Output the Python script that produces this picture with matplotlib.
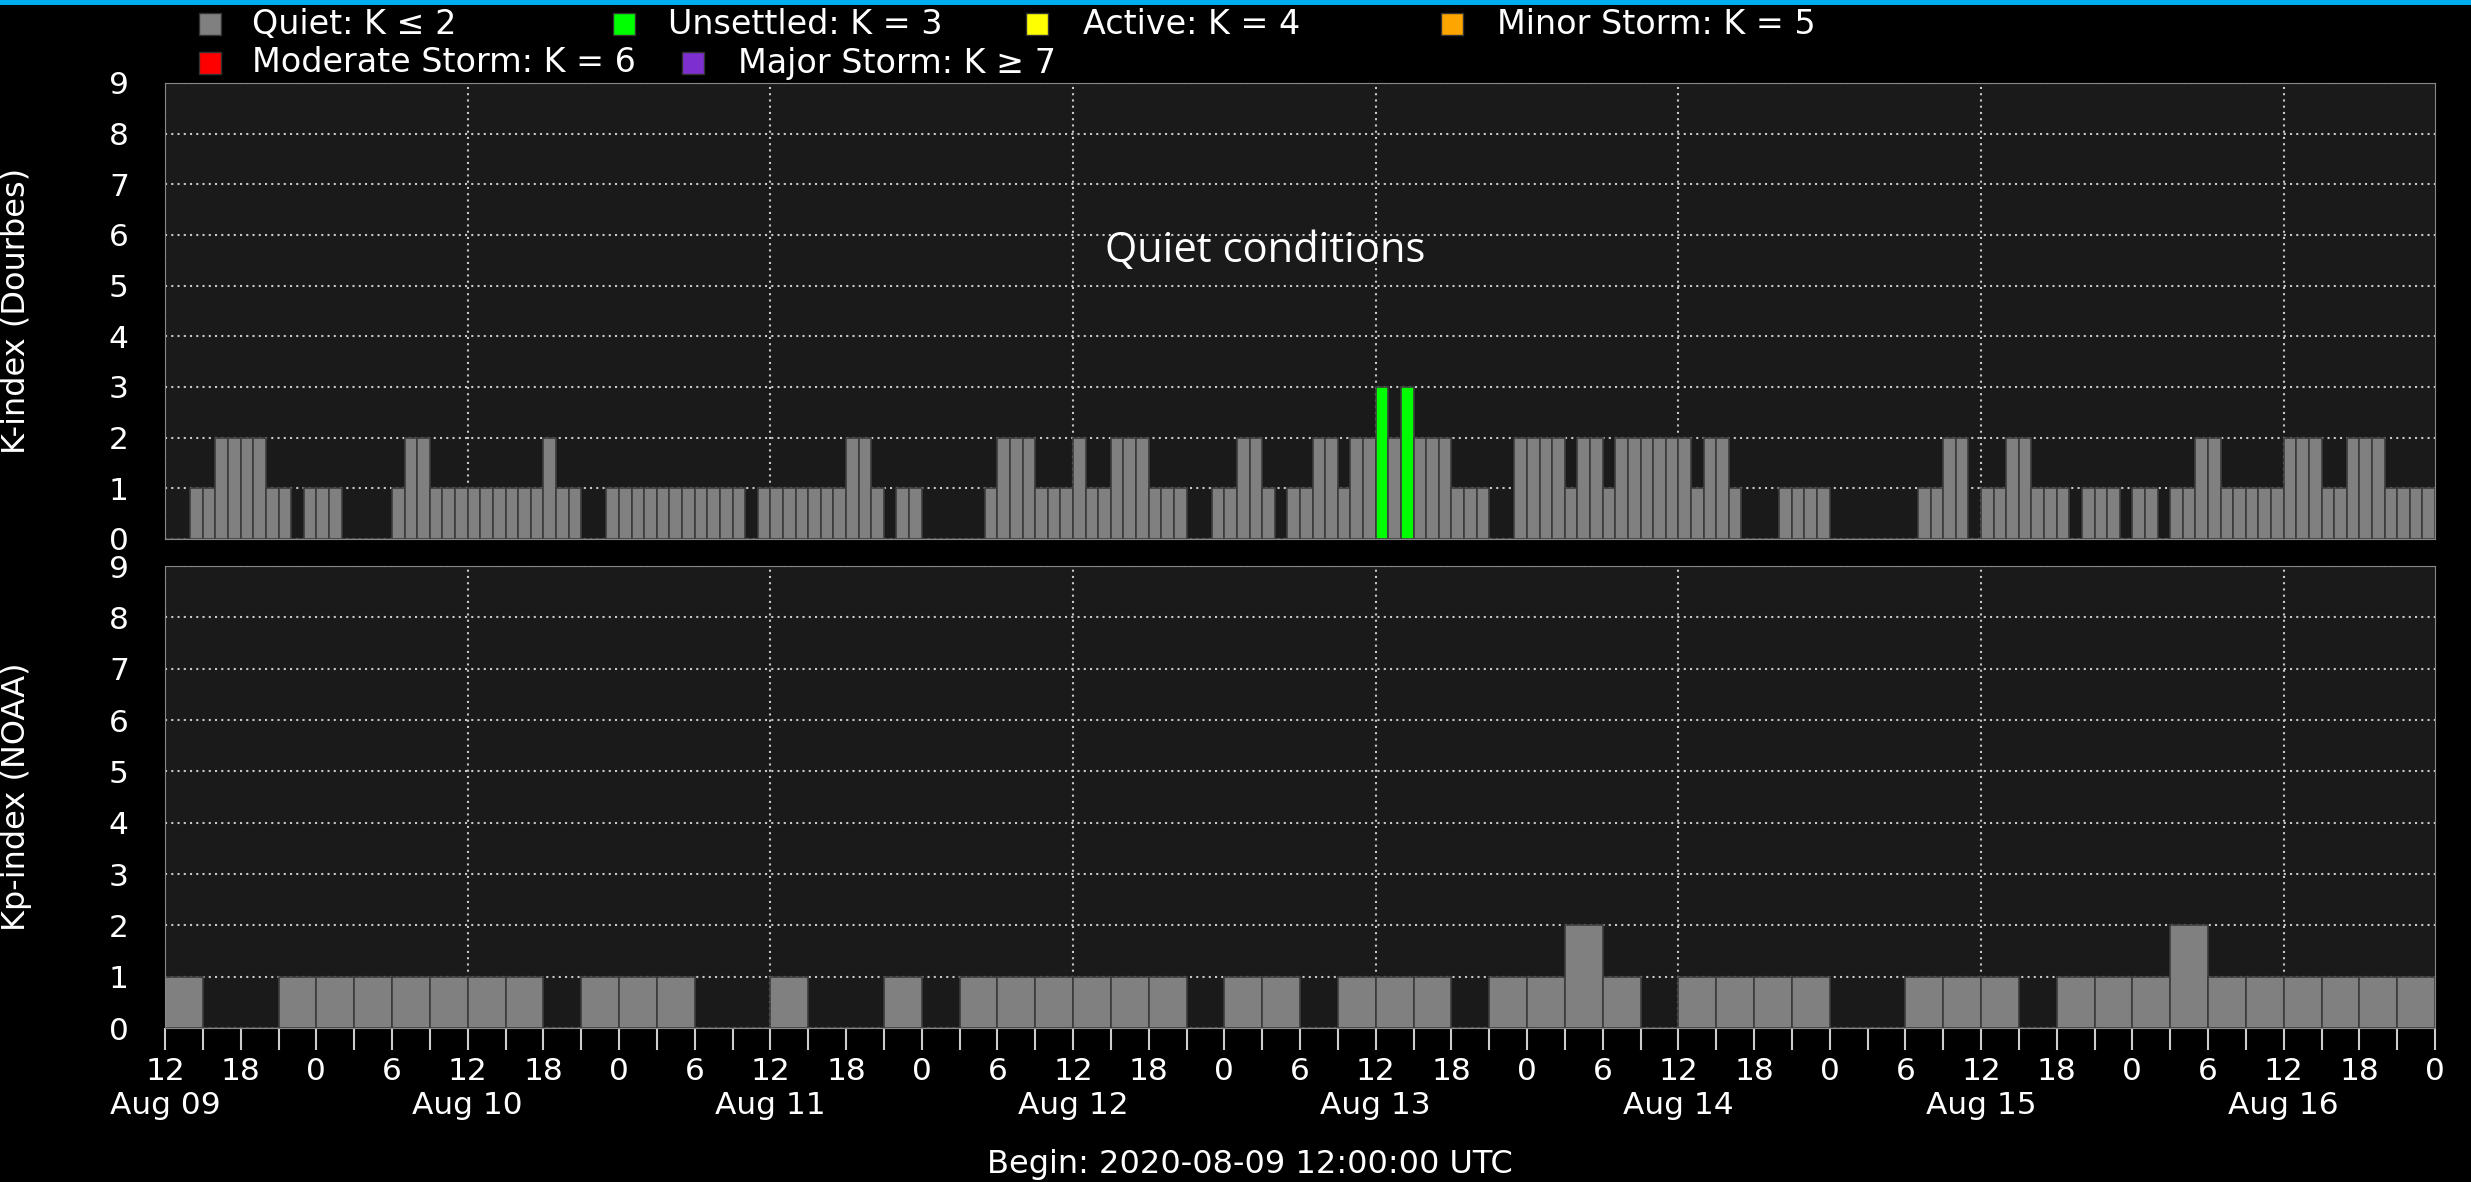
#!/usr/bin/python3
# K-index (Dourbes) and Kp-index (NOAA), week starting 2020-08-09 12 UTC

import datetime as dt
import matplotlib
matplotlib.use('Agg')
import matplotlib.pyplot as plt
import matplotlib.dates as mdates
from matplotlib.patches import Rectangle
from matplotlib.ticker import FuncFormatter

begin = dt.datetime(2020, 8, 9, 12)

# hourly local K index, Dourbes
k_dourbes = [0, 0, 1, 1, 2, 2, 2, 2, 1, 1, 0, 1, 1, 1, 0, 0, 0, 0, 1, 2,
             2, 1, 1, 1, 1, 1, 1, 1, 1, 1, 2, 1, 1, 0, 0, 1, 1, 1, 1, 1,
             1, 1, 1, 1, 1, 1, 0, 1, 1, 1, 1, 1, 1, 1, 2, 2, 1, 0, 1, 1,
             0, 0, 0, 0, 0, 1, 2, 2, 2, 1, 1, 1, 2, 1, 1, 2, 2, 2, 1, 1,
             1, 0, 0, 1, 1, 2, 2, 1, 0, 1, 1, 2, 2, 1, 2, 2, 3, 2, 3, 2,
             2, 2, 1, 1, 1, 0, 0, 2, 2, 2, 2, 1, 2, 2, 1, 2, 2, 2, 2, 2,
             2, 1, 2, 2, 1, 0, 0, 0, 1, 1, 1, 1, 0, 0, 0, 0, 0, 0, 0, 1,
             1, 2, 2, 0, 1, 1, 2, 2, 1, 1, 1, 0, 1, 1, 1, 0, 1, 1, 0, 1,
             1, 2, 2, 1, 1, 1, 1, 1, 2, 2, 2, 1, 1, 2, 2, 2, 1, 1, 1, 1]

# 3-hourly planetary Kp, NOAA
kp_noaa = [1, 0, 0, 1, 1, 1, 1, 1, 1, 1, 0, 1, 1, 1, 0, 0, 1, 0, 0, 1,
           0, 1, 1, 1, 1, 1, 1, 0, 1, 1, 0, 1, 1, 1, 0, 1, 1, 2, 1, 0,
           1, 1, 1, 1, 0, 0, 1, 1, 1, 0, 1, 1, 1, 2, 1, 1, 1, 1, 1, 1]

categories = ['Quiet: K ≤ 2', 'Unsettled: K = 3', 'Active: K = 4',
              'Minor Storm: K = 5', 'Moderate Storm: K = 6', 'Major Storm: K ≥ 7']
cat_colors = ['#808080', '#00ff00', '#ffff00', '#ffa500', '#ff0000', '#7d2fd0']

W, H = 2471, 1182


def k_color(k):
    return cat_colors[min(max(int(k) - 2, 0), 5)]


def hour_label(x, pos):
    h = int(round((x % 1) * 24)) % 24
    return str(h) if h % 6 == 0 else ''


def setup_axes(ax, ylabel):
    ax.set_facecolor('#1a1a1a')
    ax.set_xlim(begin, begin + dt.timedelta(hours=180))
    ax.set_ylim(0, 9)
    ax.set_yticks(range(10))
    ax.set_axisbelow(True)
    ax.xaxis.set_major_locator(mdates.HourLocator(byhour=[12]))
    ax.xaxis.set_minor_locator(mdates.HourLocator(byhour=range(0, 24, 3)))
    ax.xaxis.remove_overlapping_locs = False
    ax.grid(True, which='major', color='#c8c8c8', linestyle=(0, (1, 2)), linewidth=1.5)
    ax.tick_params(axis='y', colors='white', labelsize=22.5, length=0, pad=26)
    for s in ax.spines.values():
        s.set_color('#888888')
    ax.set_ylabel(ylabel, color='white', fontsize=23)
    ax.yaxis.set_label_coords(-0.0586, 0.5)


def draw_bars(ax, values, hours):
    times = [begin + dt.timedelta(hours=hours * i) for i in range(len(values))]
    ax.bar(times, values, width=hours / 24.0, align='edge',
           color=[k_color(v) for v in values], edgecolor='#3c3c3c', linewidth=1.2)


def main():
    fig = plt.figure(figsize=(W / 100, H / 100), dpi=100, facecolor='black')
    ax1 = fig.add_axes([165 / W, 1 - 539 / H, 2270 / W, 456 / H])
    ax2 = fig.add_axes([165 / W, 1 - 1028 / H, 2270 / W, 462 / H])

    setup_axes(ax1, 'K-index (Dourbes)')
    setup_axes(ax2, 'Kp-index (NOAA)')

    draw_bars(ax1, k_dourbes, 1)
    draw_bars(ax2, kp_noaa, 3)

    ax1.tick_params(axis='x', which='both', length=0, labelbottom=False)

    ax2.xaxis.set_major_formatter(mdates.DateFormatter('%b %d'))
    ax2.xaxis.set_minor_formatter(FuncFormatter(hour_label))
    ax2.tick_params(axis='x', which='major', length=0, pad=45, labelsize=22.5, colors='white')
    ax2.tick_params(axis='x', which='minor', length=16, width=1.5, pad=5,
                    labelsize=22.5, colors='white')
    ax2.tick_params(axis='x', which='minor', color='#cccccc')

    ax1.text(0.4846, 0.632, 'Quiet conditions', transform=ax1.transAxes,
             ha='center', va='center', color='white', fontsize=30,
             family=['Open Sans', 'DejaVu Sans'])

    # blue stripe on top
    fig.add_artist(Rectangle((0, 1 - 5 / H), 1, 5 / H, transform=fig.transFigure,
                             color='#00aeef', lw=0))

    # legend, two rows
    legend_layout = [(210, 252, 24), (624, 668, 24), (1037, 1083, 24),
                     (1452, 1497, 24), (210, 252, 63), (693, 738, 63)]
    for (sx, tx, y), label, c in zip(legend_layout, categories, cat_colors):
        fig.add_artist(Rectangle(((sx - 11) / W, 1 - (y + 11) / H), 22 / W, 22 / H,
                                 transform=fig.transFigure, facecolor=c,
                                 edgecolor='#333333', lw=1))
        fig.text(tx / W, 1 - y / H, label, color='white', fontsize=24,
                 ha='left', va='center')

    fig.text(1250 / W, 1 - 1165 / H, begin.strftime('Begin: %Y-%m-%d %H:%M:%S UTC'),
             color='white', fontsize=23, ha='center', va='center')

    fig.savefig('out.png', dpi=100, facecolor='black')


if __name__ == "__main__":
    main()
